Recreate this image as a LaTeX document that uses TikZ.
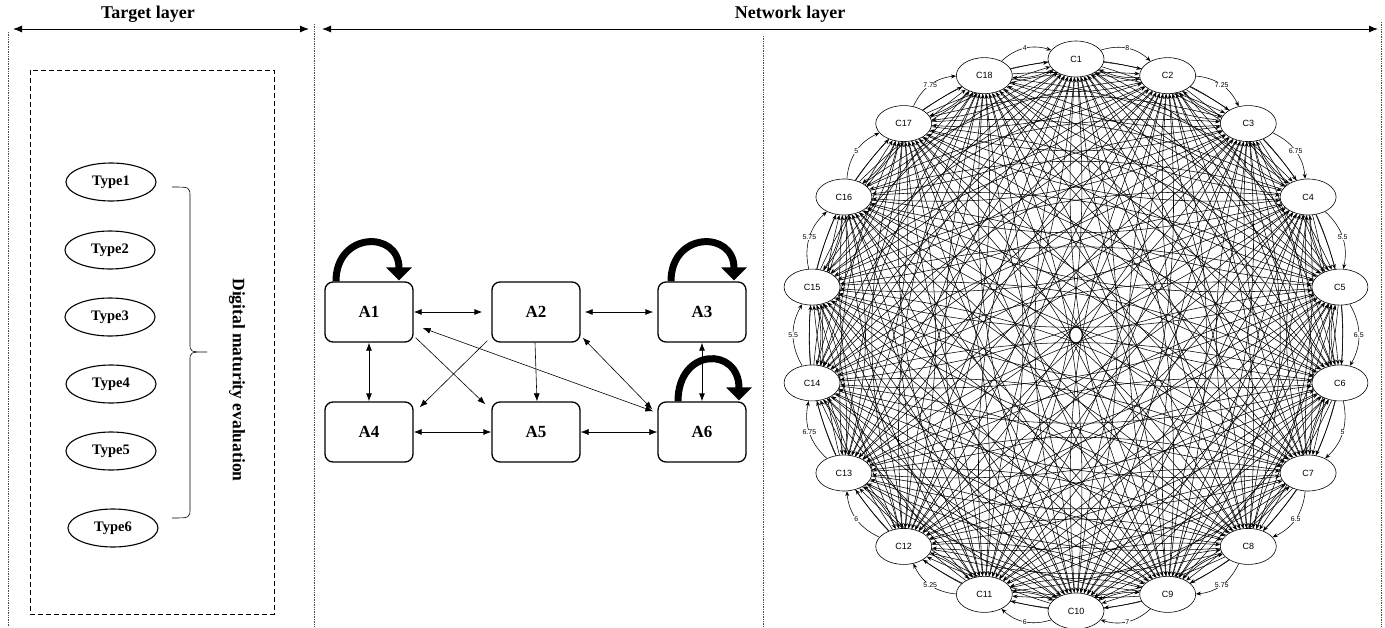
\documentclass[tikz,border=0pt]{standalone}
\usepackage{fontspec}
\setmainfont{Liberation Serif}
\setsansfont{Liberation Sans}
\usetikzlibrary{shapes.geometric,arrows.meta,calc}
\pgfdeclarelayer{bg}
\pgfsetlayers{bg,main}
\begin{document}
\begin{tikzpicture}[x=1pt,y=-1pt,
  hdr/.style={font=\bfseries\fontsize{18}{18}\selectfont},
  vtxt/.style={font=\bfseries\fontsize{17.5}{18}\selectfont},
  layerarrow/.style={{Latex[length=9pt,width=7pt]}-{Latex[length=9pt,width=7pt]}, line width=1pt},
  sep/.style={densely dotted, line width=0.7pt, black!70},
  typ/.style={ellipse, draw, line width=1.1pt, minimum width=90pt, minimum height=38pt, inner sep=0pt, font=\bfseries\fontsize{14.5}{14.5}\selectfont},
  abox/.style={draw, rounded corners=8pt, line width=1.3pt, minimum width=88pt, minimum height=60pt, font=\bfseries\fontsize{17}{17}\selectfont},
  dbl/.style={{Latex[length=8pt,width=6pt]}-{Latex[length=8pt,width=6pt]}, line width=0.8pt},
  one/.style={-{Latex[length=8pt,width=6pt]}, line width=0.6pt},
  selfloop/.style={line width=7pt, -{Triangle[length=13pt,width=25pt]}},
  cnode/.style={ellipse, draw, fill=white, line width=0.6pt, minimum width=56pt, minimum height=36pt, inner sep=0pt, font=\sffamily\fontsize{9}{9}\selectfont},
  net/.style={-{Stealth[length=5pt,width=4pt]}, line width=0.55pt},
  wlab/.style={fill=white, inner sep=0.4pt, font=\sffamily\fontsize{7}{7}\selectfont}
]
\useasboundingbox (0,0) rectangle (1385,627);

% ---- headers ----
\node[hdr] (tl) at (148,14) {Target layer};
\node[hdr] (nl) at (790,14) {Network layer};
\coordinate (tla) at (13,29);
\coordinate (tlb) at (309,29);
\coordinate (nla) at (322,29);
\coordinate (nlb) at (1378,29);
\draw[layerarrow] (tla) -- (tlb);
\draw[layerarrow] (nla) -- (nlb);

% ---- separators ----
\coordinate (s1a) at (8,32);   \coordinate (s1b) at (8,627);
\coordinate (s2a) at (314,24); \coordinate (s2b) at (314,627);
\coordinate (s3a) at (763,36); \coordinate (s3b) at (763,627);
\coordinate (s4a) at (1381,22);\coordinate (s4b) at (1381,627);
\draw[sep] (s1a) -- (s1b);
\draw[sep] (s2a) -- (s2b);
\draw[sep] (s3a) -- (s3b);
\draw[sep] (s4a) -- (s4b);

% ---- target layer ----
\draw[dashed, line width=1pt, dash pattern=on 5pt off 3pt] (30,70) rectangle (274,614);
\node[typ] (t1) at (111,182) {Type1};
\node[typ] (t2) at (110,250) {Type2};
\node[typ] (t3) at (110,317) {Type3};
\node[typ] (t4) at (111,384) {Type4};
\node[typ] (t5) at (111,451) {Type5};
\node[typ] (t6) at (113,528) {Type6};
\draw[line width=0.6pt] (172,187) .. controls (190,187) .. (190,197) -- (190,343)
  .. controls (190,352) .. (207,352) .. controls (190,352) .. (190,361) -- (190,508)
  .. controls (190,518) .. (172,518);
\node[vtxt, rotate=-90] (dme) at (237,380) {Digital maturity evaluation};

% ---- A layer ----
\node[abox] (A1) at (369,312) {A1};
\node[abox] (A2) at (536,312) {A2};
\node[abox] (A3) at (702,312) {A3};
\node[abox] (A4) at (369,432) {A4};
\node[abox] (A5) at (536,432) {A5};
\node[abox] (A6) at (702,432) {A6};

\draw[dbl] (A1.east) -- ($(A2.west)+(-9,0)$);
\draw[dbl] ($(A2.east)+(4,0)$) -- ($(A3.west)+(-4,0)$);
\draw[dbl] (A1.south) -- (A4.north);
\draw[dbl] (A4.east) -- (A5.west);
\draw[dbl, line width=0.5pt] (A5.east) -- (A6.west);
\draw[dbl] (A3.south) -- (A6.north);
\draw[one] ($(A1.south east)+(2,-5)$) -- ($(A5.north west)+(-6,3)$);
\draw[one] ($(A2.south west)+(-4,-2)$) -- ($(A4.north east)+(6,6)$);
\draw[one] ($(A2.south)+(-1,0)$) -- ($(A5.north)+(1,0)$);
\draw[dbl, line width=0.6pt] ($(A1.east)+(9,16)$) -- ($(A6.north west)+(-4,10)$);
\draw[dbl, line width=0.6pt] ($(A2.south east)+(2,-5)$) -- ($(A6.north west)+(-5,8)$);

\draw[selfloop] ($(A1.north)+(-33,0)$) .. controls +(0,-50) and +(0,-50) .. ($(A1.north)+(30,-1)$);
\draw[selfloop] ($(A3.north)+(-31,0)$) .. controls +(0,-50) and +(0,-50) .. ($(A3.north)+(32,-1)$);
\draw[selfloop] ($(A6.north)+(-24,0)$) .. controls +(0,-54) and +(0,-54) .. ($(A6.north)+(37,-1)$);

% ---- C network ----
\foreach \k in {1,...,18}{
  \pgfmathsetmacro\ang{90-(\k-1)*20}
  \node[cnode] (C\k) at ({1076+268*cos(\ang)},{335-276*sin(\ang)}) {C\k};
}
\begin{pgfonlayer}{bg}
\foreach \i in {1,...,18}{
  \foreach \j in {1,...,18}{
    \ifnum\i=\j\relax\else
      \pgfmathtruncatemacro\nx{mod(\i,18)+1}
      \ifnum\j=\nx\relax\else
        \draw[net] (C\i) to[bend left=14] (C\j);
      \fi
    \fi
  }
}
\foreach \i/\lab in {1/8,2/7.25,3/6.75,4/5.5,5/6.5,6/5,7/6.5,8/5.75,9/7,10/6,11/5.25,12/6,13/6.75,14/5.5,15/5.75,16/5,17/7.75,18/4}{
  \pgfmathtruncatemacro\nx{mod(\i,18)+1}
  \draw[net] (C\i) to[bend left=30] node[wlab] {\lab} (C\nx);
}
\end{pgfonlayer}
\end{tikzpicture}
\end{document}
